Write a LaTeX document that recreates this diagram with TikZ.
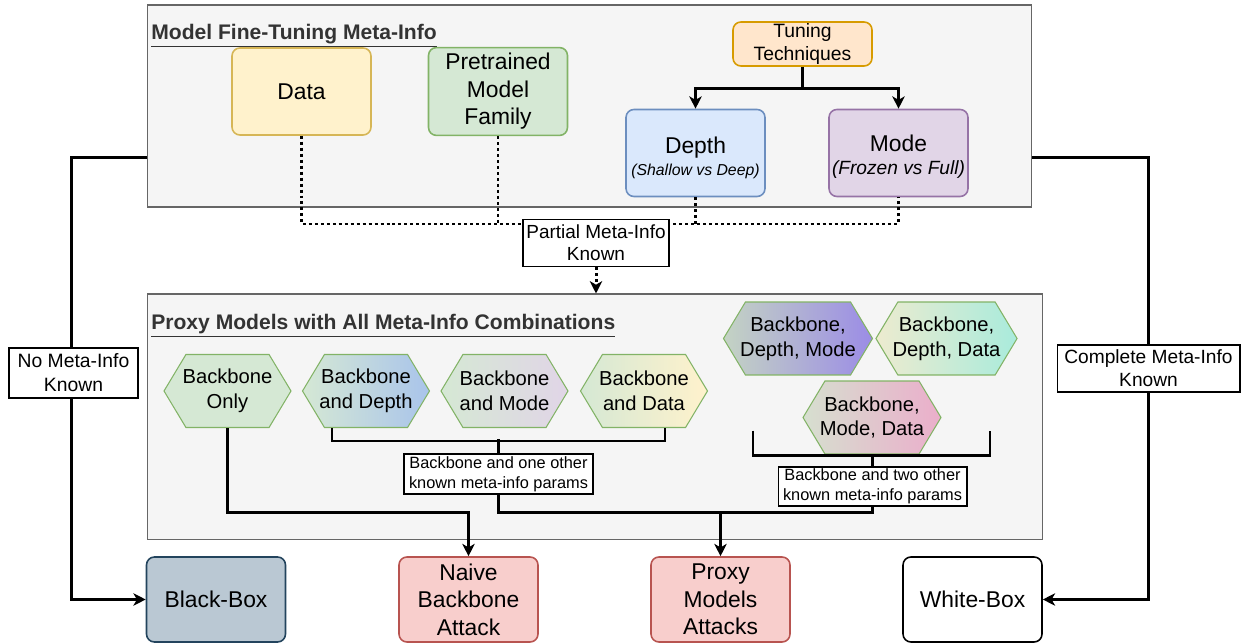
\documentclass[tikz,border=0pt]{standalone}
\usepackage{fontspec}
\setmainfont{Liberation Sans}
\usepackage{xcolor}
\usetikzlibrary{shapes.symbols, arrows.meta, calc}
\definecolor{panelgray}{HTML}{F5F5F5}
\definecolor{panelline}{HTML}{666666}
\definecolor{titlegray}{HTML}{333333}
\definecolor{yellowfill}{HTML}{FFF2CC}
\definecolor{yellowline}{HTML}{D6B656}
\definecolor{greenfill}{HTML}{D5E8D4}
\definecolor{greenline}{HTML}{82B366}
\definecolor{orangefill}{HTML}{FFE6CC}
\definecolor{orangeline}{HTML}{D79B00}
\definecolor{bluefill}{HTML}{DAE8FC}
\definecolor{blueline}{HTML}{6C8EBF}
\definecolor{purplefill}{HTML}{E1D5E7}
\definecolor{purpleline}{HTML}{9673A6}
\definecolor{slatefill}{HTML}{BAC8D3}
\definecolor{slateline}{HTML}{23445D}
\definecolor{redfill}{HTML}{F8CECC}
\definecolor{redline}{HTML}{B85450}
\definecolor{depthshade}{HTML}{A9C4EB}
\definecolor{dmshade}{HTML}{9B8CE6}
\definecolor{ddleft}{HTML}{EDEBCF}
\definecolor{ddshade}{HTML}{A9EBDC}
\definecolor{mdleft}{HTML}{D6DFCF}
\definecolor{mdshade}{HTML}{EBAECB}

\begin{document}
\begin{tikzpicture}[x=0.02cm,y=-0.02cm]
							\tikzstyle{panel} = [rectangle,fill=panelgray,draw=panelline,line width=0.6pt]
							\tikzstyle{heading} = [anchor=west,inner sep=0pt,text=titlegray,font=\fontsize{12}{14}\selectfont\bfseries]
							\tikzstyle{box} = [rectangle,rounded corners=4.5pt,line width=0.9pt,minimum width=2.78cm,minimum height=1.74cm,align=center,font=\fontsize{13}{15.6}\selectfont]
							\tikzstyle{hexa} = [signal,signal to=west and east,signal pointer angle=118,draw=greenline,line width=0.6pt,minimum width=2.54cm,minimum height=1.46cm,inner xsep=-3pt,inner ysep=1pt,align=center,font=\fontsize{11.5}{14}\selectfont]
							\tikzstyle{tag} = [rectangle,fill=white,draw=black,line width=0.6pt,inner sep=1pt,align=center]
							\tikzstyle{edge} = [line width=1.6pt]
							\tikzstyle{arrow} = [line width=1.6pt,-{Stealth[length=7pt,width=7pt,inset=2pt]}]
							\tikzstyle{dots} = [line width=1.7pt,dash pattern=on 1.7pt off 1.7pt]
							\useasboundingbox (0,0) rectangle (1241,644);
							% meta-info panel
							\node[panel,minimum width=17.7cm,minimum height=4.04cm] (meta) at (589.5,106) {};
							\node[heading] (t1) at (151,36) {\underline{Model Fine-Tuning Meta-Info}};
							\node[box,fill=yellowfill,draw=yellowline] (data) at (301.5,91.5) {Data};
							\node[box,fill=greenfill,draw=greenline] (family) at (498,91.5) {Pretrained\\Model\\Family};
							\node[box,fill=orangefill,draw=orangeline,minimum height=0.88cm,inner ysep=0pt,font=\fontsize{11}{13.4}\selectfont] (tune) at (802.5,44) {Tuning\\Techniques};
							\node[box,fill=bluefill,draw=blueline] (depth) at (695.5,153) {};
							\node[align=center,font=\fontsize{13}{15.6}\selectfont] (depthtxt) at (695.5,158) {Depth\\[-3.5pt]{\fontsize{9}{11}\selectfont\itshape (Shallow vs Deep)}};
							\node[box,fill=purplefill,draw=purpleline] (mode) at (898.5,153) {};
							\node[align=center,font=\fontsize{13}{15.6}\selectfont] (modetxt) at (898.5,157) {Mode\\[-2.5pt]{\fontsize{10.9}{13}\selectfont\itshape (Frozen vs Full)}};
							\draw[arrow] (tune.south) -- ++(0,22) -| (depth.north);
							\draw[arrow] (tune.south) -- ++(0,22) -| (mode.north);
							% proxy panel
							\node[panel,minimum width=17.92cm,minimum height=4.92cm] (proxy) at (595,417) {};
							\node[heading] (t2) at (151,326) {\underline{Proxy Models with All Meta-Info Combinations}};
							\node[hexa,fill=greenfill] (h1) at (227.5,391) {Backbone\\Only};
							\node[hexa,left color=greenfill,right color=depthshade] (h2) at (366,391) {Backbone\\and Depth};
							\node[hexa,left color=greenfill,right color=purplefill] (h3) at (504.5,391) {Backbone\\and Mode};
							\node[hexa,left color=greenfill,right color=yellowfill] (h4) at (644,391) {Backbone\\and Data};
							\node[hexa,minimum width=2.74cm,left color=greenfill!80!gray,right color=dmshade] (h5) at (798,338.5) {Backbone,\\Depth, Mode};
							\node[hexa,minimum width=2.76cm,left color=ddleft,right color=ddshade] (h6) at (946.5,338.5) {Backbone,\\Depth, Data};
							\node[hexa,minimum width=2.76cm,left color=mdleft,right color=mdshade] (h7) at (872,417.5) {Backbone,\\Mode, Data};
							% bottom outcomes
							\node[box,fill=slatefill,draw=slateline,minimum height=1.7cm] (black) at (216,599.5) {Black-Box};
							\node[box,fill=redfill,draw=redline,minimum height=1.7cm] (naive) at (468.5,599.5) {Naive\\Backbone\\Attack};
							\node[box,fill=redfill,draw=redline,minimum height=1.7cm] (attacks) at (720.5,599.5) {Proxy\\Models\\Attacks};
							\node[box,fill=white,draw=black,minimum height=1.7cm] (white) at (972.5,599.5) {White-Box};
							% partial meta-info
							\coordinate (dotrow) at (0,224);
							\draw[dots] (data.south) -- (data.south |- dotrow) -- (mode.south |- dotrow) -- (mode.south);
							\draw[dots] (family.south) -- (family.south |- dotrow);
							\draw[dots] (depth.south) -- (depth.south |- dotrow);
							\node[tag,minimum width=2.92cm,minimum height=0.94cm,font=\fontsize{10.8}{12.6}\selectfont] (partial) at (596,243) {Partial Meta-Info\\Known};
							\draw[dots,-{Stealth[length=7pt,width=7pt,inset=2pt]}] (partial.south) -- (partial.south |- proxy.north);
							% brackets
							\draw[edge] ($(h2.south)+(-34,0)$) -- ++(0,13) -| ($(h4.south)+(21,0)$);
							\node[tag,minimum width=3.78cm,minimum height=0.8cm,font=\fontsize{9.3}{11.3}\selectfont] (one) at (498.5,474) {Backbone and one other\\known meta-info params};
							\draw[edge] (one.north) -- ++(0,-14);
							\draw[edge] ($(h7.south)+(-119,-24)$) -- ($(h7.south)+(-119,1)$) -- ($(h7.south)+(118,1)$) -- ($(h7.south)+(118,-24)$);
							\node[tag,minimum width=3.78cm,minimum height=0.78cm,font=\fontsize{9.3}{11.3}\selectfont] (two) at (872.5,486.5) {Backbone and two other\\known meta-info params};
							\draw[edge] (two.north) -- (two.north |- h7.south);
							\draw[arrow] (h1.south) |- ($(naive.north)+(0,-44)$) -- (naive.north);
							\draw[arrow] (one.south) |- ($(attacks.north)+(0,-44)$) -- (attacks.north);
							\draw[edge] (two.south) |- ($(attacks.north)+(0,-44)$);
							% side routes
							\draw[arrow] ($(meta.south west)+(0,-50)$) -- ++(-75,0) |- (black.west);
							\node[tag,minimum width=2.58cm,minimum height=1cm,font=\fontsize{11}{13.6}\selectfont] (none) at (73.5,373) {No Meta-Info\\Known};
							\draw[arrow] ($(meta.south east)+(0,-50)$) -- ++(116,0) |- (white.east);
							\node[tag,minimum width=3.66cm,minimum height=0.94cm,font=\fontsize{10.9}{13.2}\selectfont] (full) at (1148.5,368.5) {Complete Meta-Info\\Known};
								\end{tikzpicture}
\end{document}
